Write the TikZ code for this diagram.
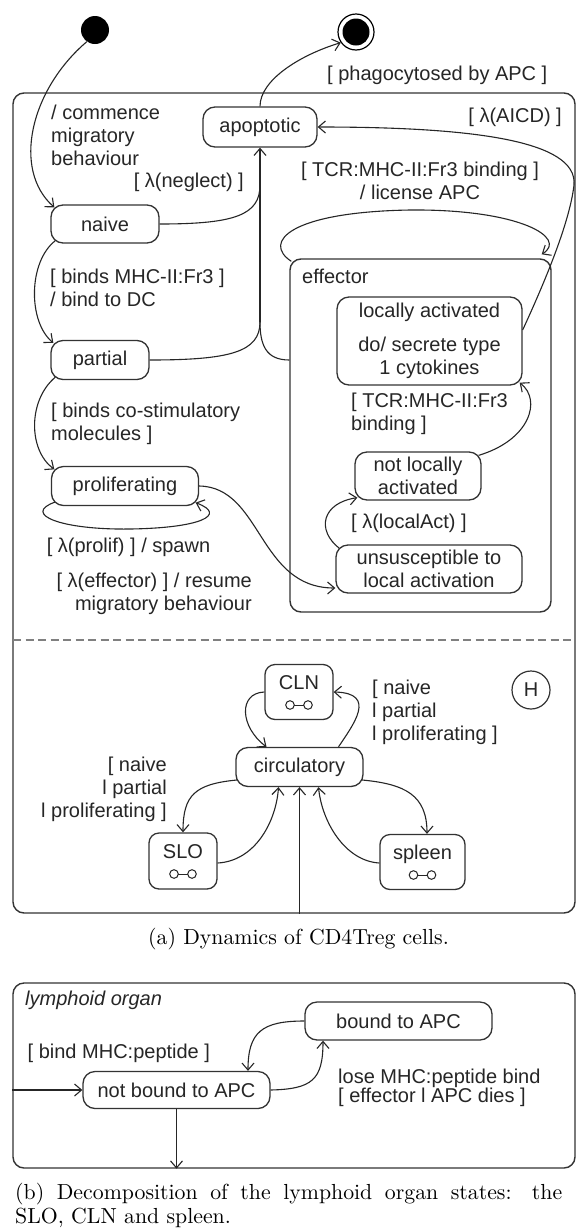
\documentclass[tikz,border=0pt]{standalone}
\usepackage{fontspec}
\setsansfont{Liberation Sans}
\newfontfamily\capfont{lmroman10-regular.otf}
\usetikzlibrary{arrows.meta}
\newcommand\compicon[1]{%
  \draw[line width=1pt, draw=black!85] ([shift={(-9,-13)}]#1.center) circle[radius=4.3];
  \draw[line width=1pt, draw=black!85] ([shift={(9,-13)}]#1.center) circle[radius=4.3];
  \draw[line width=1pt, draw=black!85] ([shift={(-4.7,-13)}]#1.center) -- ([shift={(4.7,-13)}]#1.center);}
\begin{document}
\begin{tikzpicture}[x=1pt,y=1pt,
  every node/.style={font=\sffamily\fontsize{20}{23}\selectfont, text=black!85},
  state/.style={draw=black!80, line width=1.3pt, rounded corners=12pt, inner sep=0pt, align=center},
  box/.style={draw=black!80, line width=1.4pt, rounded corners=11pt, inner sep=0pt},
  comp/.style={state, rounded corners=10pt, text height=14pt, text depth=20pt},
  lbl/.style={inner sep=0pt, align=left},
  arr/.style={line width=1.1pt, draw=black!85, -{Straight Barb[length=7pt,width=12pt,line width=1.1pt]}},
  ln/.style={line width=1.1pt, draw=black!85},
  captext/.style={font=\capfont\fontsize{21.8}{24}\selectfont, text=black, inner sep=0pt},
]
\fill[white] (0,0) rectangle (576,-1229);
\useasboundingbox (0,0) rectangle (576,-1229);

% containers
\node[box, minimum width=562pt, minimum height=820pt] (regionA) at (294,-503) {};
\node[box, minimum width=261pt, minimum height=353pt] (effector) at (420.5,-435.5) {};
\node[box, minimum width=562pt, minimum height=185pt] (lymph) at (294,-1075.5) {};

% pseudo states
\node[circle, fill=black, inner sep=0pt, minimum size=28pt] (init) at (95,-30) {};
\node[circle, draw=black, line width=1.2pt, inner sep=0pt, minimum size=36pt] (final) at (356,-32) {};
\node[circle, fill=black, inner sep=0pt, minimum size=27pt] (finalin) at (final.center) {};

% states
\node[state, minimum width=114pt, minimum height=40pt] (apoptotic) at (260,-127) {apoptotic};
\node[state, minimum width=108pt, minimum height=38pt] (naive) at (105,-224) {naive};
\node[state, minimum width=98pt, minimum height=39pt] (partial) at (100,-360) {partial};
\node[state, minimum width=147pt, minimum height=39pt] (prolif) at (125,-486) {proliferating};
\node[state, minimum width=185pt, minimum height=88pt] (locact) at (429.5,-341) {locally activated\\[11pt]do/ secrete type\\1 cytokines};
\node[state, minimum width=126pt, minimum height=48pt] (notloc) at (418,-476) {not locally\\activated};
\node[state, minimum width=186pt, minimum height=48pt] (unsus) at (429,-569) {unsusceptible to\\local activation};
\node[comp, minimum width=68pt, minimum height=55pt] (CLN) at (299,-692) {CLN};
\node[state, minimum width=127pt, minimum height=39pt] (circ) at (299.5,-767) {circulatory};
\node[comp, minimum width=68pt, minimum height=56pt] (SLO) at (183,-861) {SLO};
\node[comp, minimum width=85pt, minimum height=55pt] (spleen) at (422.5,-862) {spleen};
\node[circle, draw=black!80, line width=1.2pt, inner sep=0pt, minimum size=38pt] (H) at (531,-690) {H};
\node[state, minimum width=187pt, minimum height=38pt] (bound) at (398.5,-1021) {bound to APC};
\node[state, minimum width=187pt, minimum height=37pt] (notbound) at (176.5,-1090) {not bound to APC};
\compicon{CLN}
\compicon{SLO}
\compicon{spleen}

% labels
\node[lbl, anchor=west] (lcomm) at (51,-135) {/ commence\\migratory\\behaviour};
\node[lbl, anchor=west] (lphag) at (327,-75) {[ phagocytosed by APC ]};
\node[lbl, anchor=east] (laicd) at (562,-117) {[ λ(AICD) ]};
\node[lbl, align=center] (llic) at (420,-181) {[ TCR:MHC-II:Fr3 binding ]\\/ license APC};
\node[lbl, anchor=east] (lneg) at (244,-182) {[ λ(neglect) ]};
\node[lbl, anchor=west] (lbind) at (50,-287.5) {[ binds MHC-II:Fr3 ]\\/ bind to DC};
\node[lbl, anchor=west] (lcost) at (51,-423.5) {[ binds co-stimulatory\\molecules ]};
\node[lbl, anchor=west] (ltcr) at (351,-414) {[ TCR:MHC-II:Fr3\\binding ]};
\node[lbl, anchor=west] (leff) at (302,-276) {effector};
\node[lbl] (lloc) at (409,-523) {[ λ(localAct) ]};
\node[lbl] (lprol) at (128.5,-547) {[ λ(prolif) ] / spawn};
\node[lbl, anchor=east, align=right] (lresume) at (252,-593.5) {[ λ(effector) ] / resume\\migratory behaviour};
\node[lbl, anchor=west] (lcln) at (372,-712.5) {[ naive\\l partial\\l proliferating ]};
\node[lbl, anchor=east, align=right] (lslo) at (167,-789.5) {[ naive\\l partial\\l proliferating ]};
\node[lbl, anchor=west, font=\sffamily\itshape\fontsize{20}{23}\selectfont] (llym) at (25,-1000) {lymphoid organ};
\node[lbl, anchor=west] (lpep) at (27.5,-1053) {[ bind MHC:peptide ]};
\node[lbl, anchor=west, font=\sffamily\fontsize{20}{19}\selectfont] (llose) at (338,-1087.5) {lose MHC:peptide bind\\{}[ effector l APC dies ]};

% dashed separator
\coordinate (dL) at (13,-640);
\coordinate (dR) at (575,-640);
\draw[dash pattern=on 8pt off 4.5pt, line width=1.6pt, draw=black!50] (dL) -- (dR);

% connectors, upper region
\draw[arr] (init.235) .. controls (30,-90) and (12,-170) .. ([shift={(4,-3)}]naive.north west);
\draw[arr] (apoptotic.north) .. controls (260,-80) and (300,-55) .. (final.215);
\coordinate (mrg) at (260,-322);
\draw[arr] (mrg) -- (apoptotic.south);
\draw[ln] (naive.east) .. controls (235,-224) and (260,-215) .. (260,-185);
\draw[ln] (partial.east) .. controls (230,-360) and (260,-352) .. (mrg);
\draw[ln] (effector.west |- partial.east) .. controls (266,-360) and (260,-345) .. (mrg);
\draw[arr] ([shift={(5,3)}]naive.south west) .. controls (28,-262) and (28,-322) .. ([shift={(3,-3)}]partial.north west);
\draw[arr] ([shift={(5,3)}]partial.south west) .. controls (28,-400) and (28,-450) .. ([shift={(3.5,-3.5)}]prolif.north west);
\draw[arr] ([shift={(4,4)}]prolif.south west) .. controls (22,-514) and (60,-530) .. (130,-529) .. controls (200,-528) and (228,-515) .. ([shift={(-3.5,3.5)}]prolif.south east);
\draw[arr] (prolif.east) .. controls (262,-487) and (258,-588) .. ([yshift=-19]unsus.west);
\draw[arr] ([shift={(4,-4)}]unsus.north west) .. controls (316,-530) and (322,-503) .. ([shift={(3,3)}]notloc.south west);
\draw[arr] ([shift={(-3,-4)}]notloc.north east) .. controls (530,-440) and (542,-400) .. ([shift={(-3,3)}]locact.south east);
\draw[arr] ([yshift=11]locact.east) .. controls (548,-275) and (570,-220) .. (574,-185) .. controls (578,-140) and (470,-127) .. (apoptotic.east);
\draw[arr] ([shift={(2,-3)}]effector.north west) .. controls (262,-242) and (290,-212) .. (410,-210) .. controls (520,-209) and (568,-238) .. ([shift={(-10,4)}]effector.north east);

% connectors, lower region
\draw[arr] (CLN.west) .. controls (238,-693) and (240,-727) .. ([xshift=-33]circ.north);
\draw[arr] ([xshift=39]circ.north) .. controls (353,-725) and (378,-693) .. (CLN.east);
\draw[arr] ([shift={(1.5,-13)}]circ.west) .. controls (195,-784) and (183,-795) .. (SLO.north);
\draw[arr] ([yshift=-2]SLO.east) .. controls (255,-861) and (276,-822) .. ([xshift=-21]circ.south);
\draw[arr] ([yshift=-1]spleen.west) .. controls (345,-861) and (322,-822) .. ([xshift=19]circ.south);
\draw[arr] ([shift={(-1.5,-13)}]circ.east) .. controls (405,-784) and (427,-795) .. ([xshift=4.5]spleen.north);
\draw[arr] (circ.south |- regionA.south) -- (circ.south);

% lymphoid organ
\draw[arr] (lymph.west |- notbound.west) -- (notbound.west);
\draw[arr] (notbound.south) -- (notbound.south |- lymph.south);
\draw[arr] (bound.west) .. controls (262,-1021) and (248,-1032) .. ([xshift=71.5]notbound.north);
\draw[arr] (notbound.east) .. controls (312,-1089) and (323,-1080) .. ([xshift=-75.5]bound.south);

% captions
\node[captext, anchor=base] (capa) at (298.5,-944) {(a) Dynamics of CD4Treg cells.};
\node[captext, anchor=base west, text width=547pt, align=justify] (capb) at (15,-1199) {(b) Decomposition of the lymphoid organ states: the\linebreak SLO, CLN and spleen.};
\end{tikzpicture}
\end{document}
